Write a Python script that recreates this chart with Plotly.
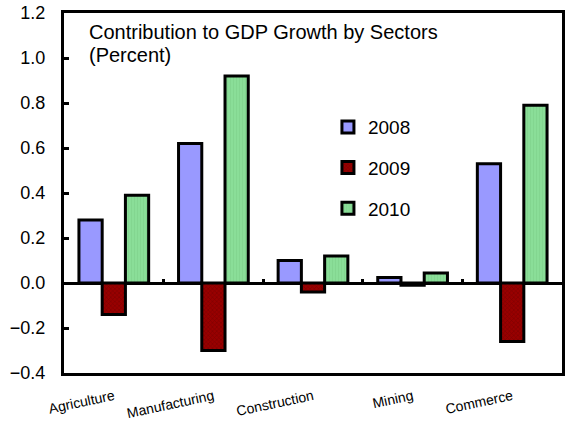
import plotly.graph_objects as go

# Sector contributions to GDP growth, percentage points
sectors = ["Agriculture", "Manufacturing", "Construction", "Mining", "Commerce"]
years = ["2008", "2009", "2010"]
values_2008 = [0.28, 0.62, 0.10, 0.025, 0.53]
values_2009 = [-0.14, -0.30, -0.04, -0.01, -0.26]
values_2010 = [0.39, 0.92, 0.12, 0.045, 0.79]

y_ticks = [-0.4, -0.2, 0.0, 0.2, 0.4, 0.6, 0.8, 1.0, 1.2]

FONT = "Liberation Sans, Arial, sans-serif"

styles = {
    "2008": dict(color="#9999ff"),
    "2009": dict(color="#990000",
                 pattern=dict(shape="x", fgcolor="#5c0000", bgcolor="#990000",
                              size=3, solidity=0.35)),
    "2010": dict(color="#8ade98",
                 pattern=dict(shape="|", fgcolor="#79cc88", bgcolor="#8ade98",
                              size=3, solidity=0.3)),
}

fig = go.Figure()
for year, vals in zip(years, [values_2008, values_2009, values_2010]):
    st = styles[year]
    marker = dict(color=st["color"], line=dict(color="black", width=3))
    if "pattern" in st:
        marker["pattern"] = st["pattern"]
    fig.add_trace(go.Bar(
        x=sectors, y=vals, name=year, legendgroup=year,
        marker=marker,
    ))

# Invisible helper so the separator-tick axis along the zero line is drawn
fig.add_trace(go.Scatter(x=sectors, y=[0] * len(sectors), xaxis="x2",
                         mode="markers", marker=dict(size=1, opacity=0),
                         showlegend=False, hoverinfo="skip"))

fig.update_layout(
    width=565, height=422,
    margin=dict(l=64, r=3, t=13, b=49, autoexpand=False),
    paper_bgcolor="white", plot_bgcolor="white",
    barmode="group", bargap=0.3, bargroupgap=0.0,
    font=dict(family=FONT, color="black"),
    showlegend=True,
    legend=dict(x=0.53, y=0.736, xanchor="left", yanchor="top",
                font=dict(size=19, family=FONT), tracegroupgap=13,
                bgcolor="rgba(0,0,0,0)", borderwidth=0),
    xaxis=dict(
        type="category", categoryarray=sectors, range=[-0.5, 4.5],
        showline=True, linecolor="black", linewidth=3.2, mirror=True,
        ticks="", tickangle=-12, tickfont=dict(size=14, family=FONT),
        ticklabelstandoff=7, automargin=False,
        showgrid=False, zeroline=False,
    ),
    xaxis2=dict(
        type="category", categoryarray=sectors, range=[-0.5, 4.5],
        overlaying="x", anchor="free", position=0.25, side="bottom",
        tickson="boundaries", ticks="inside", ticklen=4, tickwidth=2.5,
        tickcolor="black", showticklabels=False, showline=False,
        showgrid=False, zeroline=False, automargin=False,
    ),
    yaxis=dict(
        range=[-0.4, 1.2], tickvals=y_ticks, tickformat=".1f",
        showline=True, linecolor="black", linewidth=3.2, mirror=True,
        ticks="inside", ticklen=5, tickwidth=3, tickcolor="black",
        tickfont=dict(size=18, family=FONT), ticklabelstandoff=12,
        showgrid=False, automargin=False,
        zeroline=True, zerolinecolor="black", zerolinewidth=3,
    ),
    annotations=[
        dict(text="Contribution to GDP Growth by Sectors",
             xref="paper", yref="paper", x=0.046, y=1 - (32 - 13) / 360,
             xanchor="left", yanchor="middle", align="left", showarrow=False,
             font=dict(size=20, family=FONT, color="black")),
        dict(text="(Percent)",
             xref="paper", yref="paper", x=0.046, y=1 - (55 - 13) / 360,
             xanchor="left", yanchor="middle", align="left", showarrow=False,
             font=dict(size=20, family=FONT, color="black")),
    ],
)

fig.write_html("out.html")
